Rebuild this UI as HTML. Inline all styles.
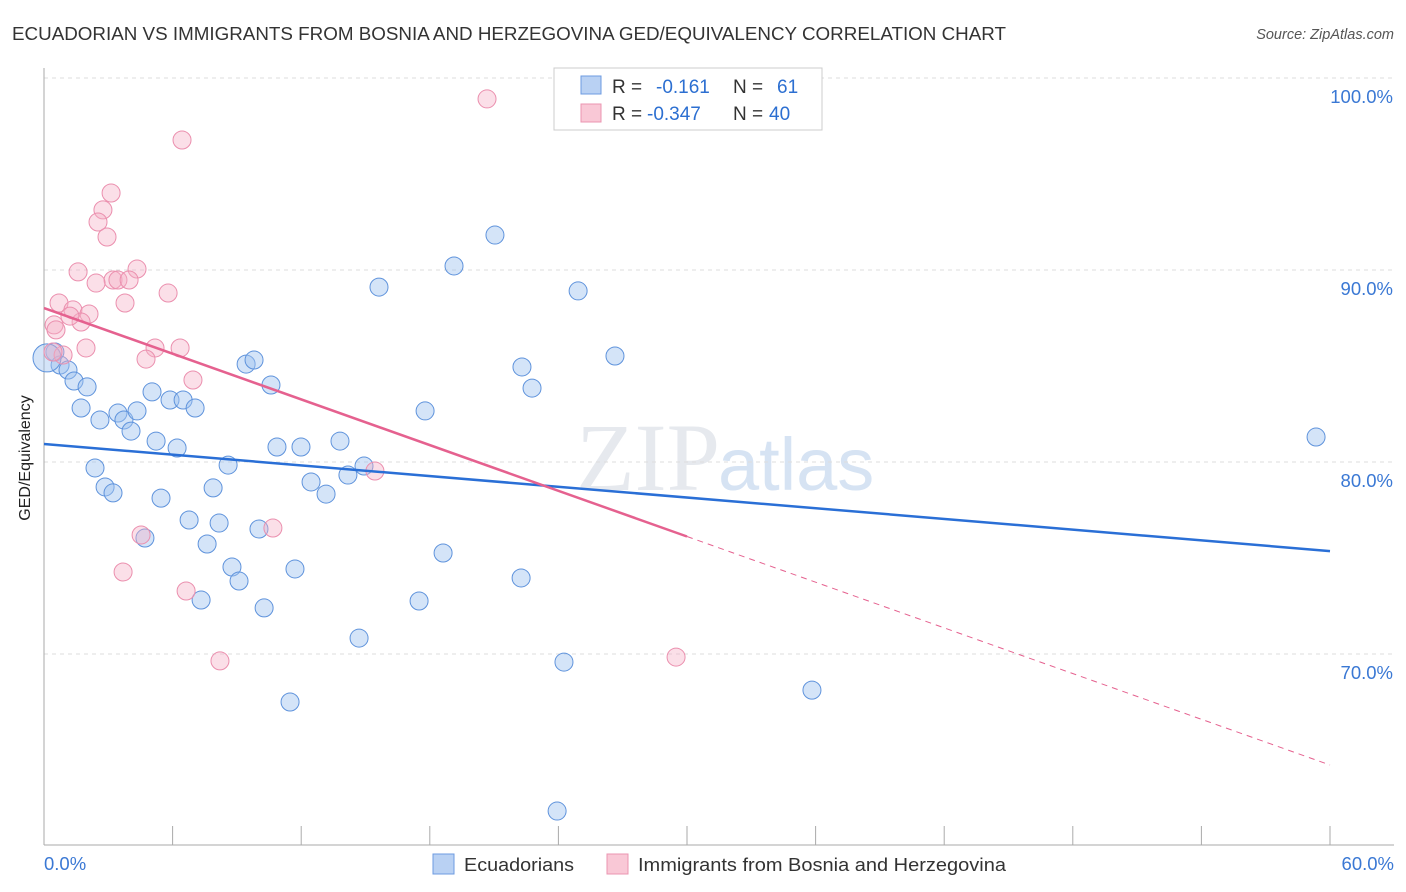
<!DOCTYPE html>
<html><head><meta charset="utf-8"><style>
body{margin:0;background:#fff;font-family:"Liberation Sans",sans-serif}
#wrap{position:relative;width:1406px;height:892px;overflow:hidden}
</style></head><body><div id="wrap">
<svg id="svg" width="1406" height="892" xmlns="http://www.w3.org/2000/svg">
<text x="12" y="40" font-size="18" fill="#333" textLength="994" lengthAdjust="spacingAndGlyphs">ECUADORIAN VS IMMIGRANTS FROM BOSNIA AND HERZEGOVINA GED/EQUIVALENCY CORRELATION CHART</text>
<text x="1394" y="39" font-size="14.5" fill="#555" text-anchor="end" font-style="italic">Source: ZipAtlas.com</text>
<text x="720" y="490" font-size="96" fill="#e6e9ee" text-anchor="end" font-family="Liberation Serif,serif">ZIP</text>
<text x="718" y="490" font-size="74" fill="#d6e3f3">atlas</text>
<g id="grid"></g><g id="axes"></g><g id="marks"></g><g id="lines"></g>
<text x="30" y="458" font-size="16" fill="#222" text-anchor="middle" transform="rotate(-90 30 458)">GED/Equivalency</text>
<g>
<rect x="554" y="68" width="268" height="62" fill="#fff" stroke="#ccc"/>
<rect x="581" y="76" width="20" height="18" fill="#b9d1f3" stroke="#6d9be0"/>
<rect x="581" y="104" width="20" height="18" fill="#f9c8d6" stroke="#eb95b0"/>
<text x="612" y="93" font-size="19" fill="#333">R = <tspan fill="#2c6fd1" x="656">-0.161</tspan><tspan x="733" fill="#333">N = </tspan><tspan fill="#2c6fd1" x="777">61</tspan></text>
<text x="612" y="120" font-size="19" fill="#333">R = <tspan fill="#2c6fd1" x="647">-0.347</tspan><tspan x="733" fill="#333">N = </tspan><tspan fill="#2c6fd1" x="769">40</tspan></text>
</g>
<g>
<rect x="433" y="854" width="21" height="20" fill="#b9d1f3" stroke="#6d9be0"/>
<text x="464" y="871" font-size="18.5" fill="#333" textLength="110" lengthAdjust="spacingAndGlyphs">Ecuadorians</text>
<rect x="607" y="854" width="21" height="20" fill="#f9c8d6" stroke="#eb95b0"/>
<text x="638" y="871" font-size="18.5" fill="#333" textLength="368" lengthAdjust="spacingAndGlyphs">Immigrants from Bosnia and Herzegovina</text>
</g>
</svg></div>
<script>
const blueX=[0.51,0.75,1.12,1.40,2.01,1.73,2.61,2.38,2.85,3.22,3.45,3.73,4.06,4.34,4.71,5.04,5.23,5.46,5.88,6.21,6.49,6.77,7.05,7.33,7.61,7.89,8.17,8.59,8.77,9.10,9.43,9.80,10.03,10.27,10.59,10.87,11.48,11.71,11.99,12.46,13.16,13.81,14.18,14.70,14.93,15.63,17.50,17.78,18.62,19.13,21.04,22.26,22.30,22.77,24.26,23.94,24.92,26.64,35.83,59.35,0.14];
const blueY=[85.73,85.05,84.79,84.22,83.91,82.81,82.19,79.69,78.70,78.39,82.55,82.19,81.61,82.66,76.04,83.65,81.09,78.12,83.23,80.73,83.23,76.98,82.81,72.81,75.73,78.65,76.82,79.84,74.53,73.80,85.10,85.31,76.51,72.40,84.01,80.78,67.50,74.43,80.78,78.96,78.33,81.09,79.32,70.83,79.79,89.11,72.76,82.66,75.26,90.21,91.82,73.96,84.95,83.85,69.58,61.82,88.91,85.52,68.12,81.30,85.42];
const pinkX=[20.67,6.44,3.13,2.75,2.52,2.94,1.59,4.34,3.22,3.45,3.97,2.43,5.79,3.78,0.70,1.35,2.10,0.47,1.73,0.56,1.96,0.89,5.18,6.35,4.76,6.95,15.44,10.68,4.53,3.69,6.63,8.21,29.49,1.21,0.42];
const pinkY=[98.91,96.77,94.01,93.13,92.50,91.72,89.90,90.05,89.48,89.48,89.48,89.32,88.80,88.28,88.28,87.92,87.71,87.14,87.29,86.88,85.94,85.57,85.94,85.94,85.36,84.27,79.53,76.56,76.20,74.27,73.28,69.64,69.84,87.60,85.73];
const yTicks=[100,90,80,70];
const yTickLabels=["100.0%","90.0%","80.0%","70.0%"];
const blueTrend=[80.94,75.36];
const pinkTrend=[88.02,64.22];
const NS="http://www.w3.org/2000/svg";
const sx=v=>44+v/60*1286, sy=v=>78+(100-v)*19.2;
function mk(tag,attrs,parent){const e=document.createElementNS(NS,tag);for(const k in attrs)e.setAttribute(k,attrs[k]);parent.appendChild(e);return e;}
const grid=document.getElementById('grid'),axes=document.getElementById('axes'),marks=document.getElementById('marks'),lines=document.getElementById('lines');
yTicks.forEach((t,i)=>{
 const l=mk('line',{x1:44,x2:1394,y1:sy(t),y2:sy(t),stroke:'#ddd','stroke-dasharray':'4,4'},grid);
 
 
 const tx=mk('text',{x:1393,y:sy(t)+25,'font-size':18.5,fill:'#3a78d4','text-anchor':'end'},grid);
 tx.textContent=yTickLabels[i];
 
 
});
const ax=mk('line',{x1:44,x2:44,y1:68,y2:845,stroke:'#aaa'},axes);


const bx=mk('line',{x1:44,x2:1394,y1:845,y2:845,stroke:'#aaa'},axes);


for(let i=0;i<=10;i++){const t=mk('line',{x1:sx(i*6),x2:sx(i*6),y1:826,y2:845,stroke:'#aaa'},axes);
 
 }
[[0,"0.0%","start",44],[60,"60.0%","end",1394]].forEach(a=>{const t=mk('text',{x:a[3],y:870,'font-size':18.5,fill:'#3a78d4','text-anchor':a[2]},axes);t.textContent=a[1];
 
 });
blueX.forEach((x,i)=>{const c=mk('circle',{cx:sx(x),cy:sy(blueY[i]),r:i==blueX.length-1?14:9,fill:'rgba(160,195,240,0.45)',stroke:'#5f93dc','stroke-width':1},marks);
 
 });
pinkX.forEach((x,i)=>{const c=mk('circle',{cx:sx(x),cy:sy(pinkY[i]),r:9,fill:'rgba(246,175,198,0.4)',stroke:'#eb8fae','stroke-width':1},marks);
 
 });
const bl=mk('line',{x1:sx(0),y1:sy(blueTrend[0]),x2:sx(60),y2:sy(blueTrend[1]),stroke:'#2a6fd6','stroke-width':2.5},lines);


const pm=pinkTrend[0]+(pinkTrend[1]-pinkTrend[0])*0.5;
const pl=mk('line',{x1:sx(0),y1:sy(pinkTrend[0]),x2:sx(30),y2:sy(pm),stroke:'#e5618f','stroke-width':2.5},lines);


const pd=mk('line',{x1:sx(30),y1:sy(pm),x2:sx(60),y2:sy(pinkTrend[1]),stroke:'#e5618f','stroke-width':1,'stroke-dasharray':'6,5'},lines);


</script></body></html>
